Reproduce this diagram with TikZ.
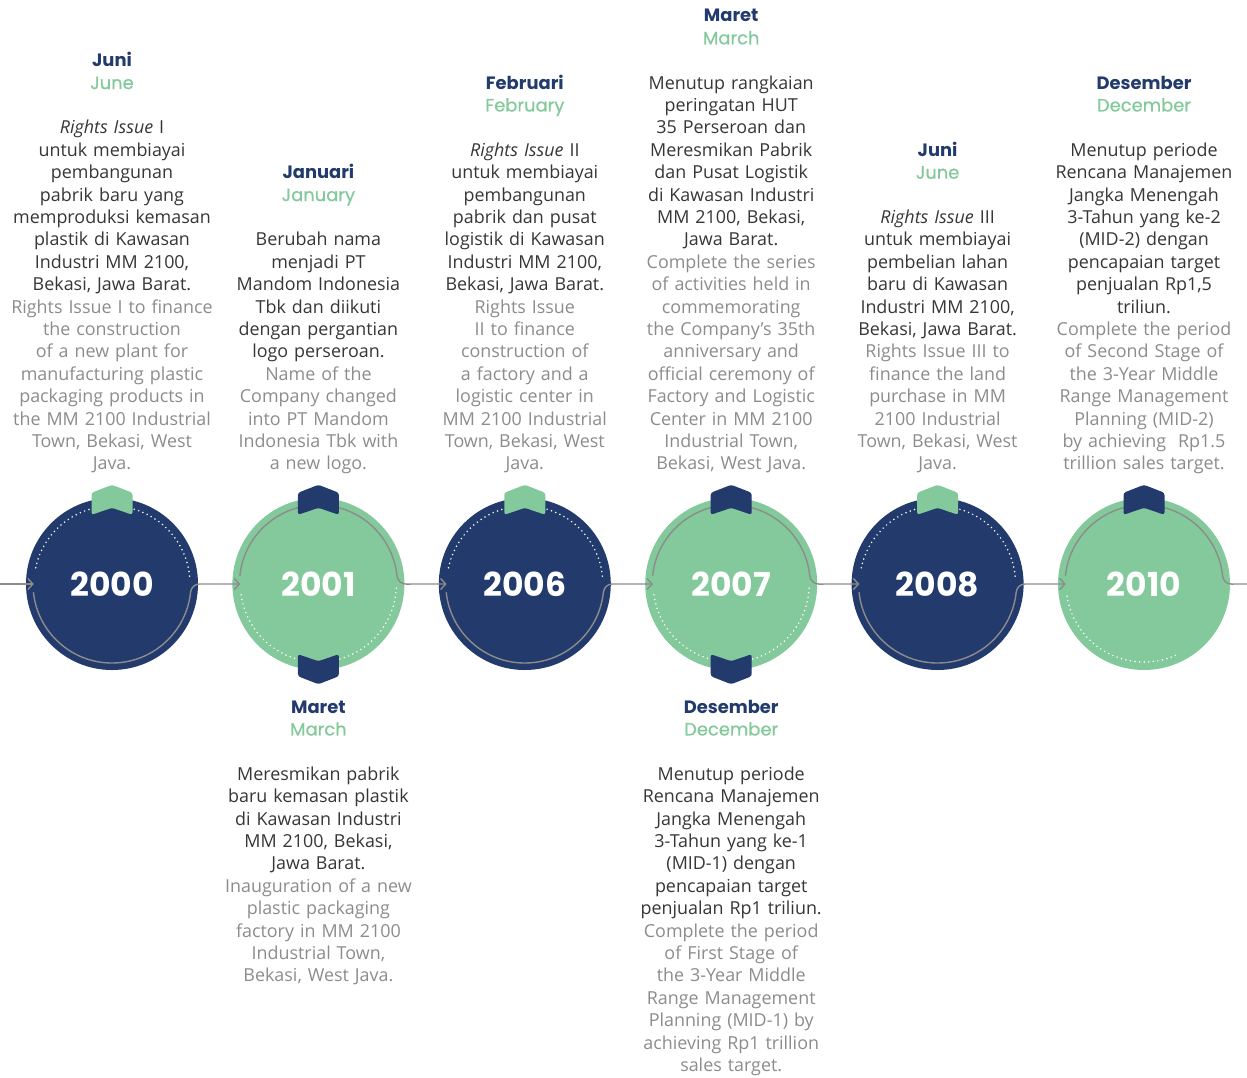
\documentclass[tikz,border=0pt]{standalone}
\usepackage{fontspec}
\setmainfont{Open Sans}
\newfontfamily\yearfont{Poppins}
\newfontfamily\monthfont{Poppins}[FakeBold=0.6]
\usetikzlibrary{positioning,arrows.meta}
\definecolor{navy}{HTML}{223A6C}
\definecolor{mint}{HTML}{83C99B}
\definecolor{ink}{HTML}{363636}
\definecolor{mute}{HTML}{8C8C8C}
\newcommand{\mon}[2]{{\yearfont\bfseries\color{navy}#1}\\{\monthfont\color{mint}#2}\\[22.4pt]}

\begin{document}
\begin{tikzpicture}[x=1pt, y=1pt, node distance=206.4pt, >={Straight Barb[length=5pt,width=11pt]},
    year/.style={circle, minimum size=172pt, inner sep=0pt, text=white,
      font=\yearfont\bfseries\fontsize{33}{33}\selectfont},
    darkyear/.style={year, fill=navy},
    lightyear/.style={year, fill=mint},
    note/.style={text width=212pt, align=center, inner sep=0pt, text=ink,
      font=\fontsize{17.9}{22.4}\selectfont},
    flow/.style={draw=mute, line width=1.4pt},
    dots/.style={draw=white, line width=1.7pt, line cap=round, dash pattern=on 0pt off 4.6pt},
    uptab/.pic={\fill[rounded corners=2.5pt] (0,15) -- (20.5,7) -- (20.5,-15) -- (0,-8)
      -- (-20.5,-15) -- (-20.5,7) -- cycle;},
    downtab/.pic={\fill[rounded corners=2.5pt] (0,-15) -- (20.5,-7) -- (20.5,15) -- (0,8)
      -- (-20.5,15) -- (-20.5,-7) -- cycle;}]
    \useasboundingbox (0,0) rectangle (1247,-1077);

    \node[darkyear] (y2000) at (112,-584) {2000};
    \node[lightyear, right of=y2000] (y2001) {2001};
    \node[darkyear, right of=y2001] (y2006) {2006};
    \node[lightyear, right of=y2006] (y2007) {2007};
    \node[darkyear, right of=y2007] (y2008) {2008};
    \node[lightyear, right of=y2008] (y2010) {2010};
    \coordinate (start) at (0,-584);
    \coordinate (finish) at (1247,-584);

    % dotted rims
    \draw[dots] ([shift={(168:78pt)}]y2000.center) arc[start angle=168, end angle=3, radius=78pt];
    \draw[dots] ([shift={(188:78pt)}]y2001.center) arc[start angle=188, end angle=358, radius=78pt];
    \draw[dots] ([shift={(168:78pt)}]y2006.center) arc[start angle=168, end angle=3, radius=78pt];
    \draw[dots] ([shift={(188:78pt)}]y2007.center) arc[start angle=188, end angle=358, radius=78pt];
    \draw[dots] ([shift={(168:78pt)}]y2008.center) arc[start angle=168, end angle=3, radius=78pt];
    \draw[dots] ([shift={(189:78pt)}]y2010.center) arc[start angle=189, end angle=297, radius=78pt];

    % timeline
    \draw[flow, ->] (start) -- ([xshift=8pt]y2000.west);
    \draw[flow, ->] ([shift={(186:79pt)}]y2000.center) arc[start angle=186, end angle=354, radius=79pt]
      to[out=84, in=180] ++(9,8.3) -- ([xshift=8pt]y2001.west);
    \draw[flow, ->] ([shift={(174:79pt)}]y2001.center) arc[start angle=174, end angle=6, radius=79pt]
      to[out=-84, in=180] ++(9,-8.3) -- ([xshift=8pt]y2006.west);
    \draw[flow, ->] ([shift={(186:79pt)}]y2006.center) arc[start angle=186, end angle=354, radius=79pt]
      to[out=84, in=180] ++(9,8.3) -- ([xshift=8pt]y2007.west);
    \draw[flow, ->] ([shift={(174:79pt)}]y2007.center) arc[start angle=174, end angle=6, radius=79pt]
      to[out=-84, in=180] ++(9,-8.3) -- ([xshift=8pt]y2008.west);
    \draw[flow, ->] ([shift={(186:79pt)}]y2008.center) arc[start angle=186, end angle=354, radius=79pt]
      to[out=84, in=180] ++(9,8.3) -- ([xshift=8pt]y2010.west);
    \draw[flow] ([shift={(174:79pt)}]y2010.center) arc[start angle=174, end angle=6, radius=79pt]
      to[out=-84, in=180] ++(9,-8.3) -- (finish);

    % tabs
    \pic[fill=mint] at ([yshift=-2pt]y2000.north) {uptab};
    \pic[fill=navy] at ([yshift=-2pt]y2001.north) {uptab};
    \pic[fill=navy] at ([yshift=1pt]y2001.south) {downtab};
    \pic[fill=mint] at ([yshift=-2pt]y2006.north) {uptab};
    \pic[fill=navy] at ([yshift=-2pt]y2007.north) {uptab};
    \pic[fill=navy] at ([yshift=1pt]y2007.south) {downtab};
    \pic[fill=mint] at ([yshift=-2pt]y2008.north) {uptab};
    \pic[fill=navy] at ([yshift=-2pt]y2010.north) {uptab};

    \node[note, above=21pt of y2000] (n2000) {\strut\mon{Juni}{June}
      \textit{Rights Issue} I\\ untuk membiayai\\ pembangunan\\ pabrik baru yang\\
      memproduksi kemasan\\ plastik di Kawasan\\ Industri MM 2100,\\ Bekasi, Jawa Barat.\\
      {\color{mute}Rights Issue I to finance\\ the construction\\ of a new plant for\\
      manufacturing plastic\\ packaging products in\\ the MM 2100 Industrial\\
      Town, Bekasi, West\\ Java.\strut}};
    \node[note, above=21pt of y2001] (n2001) {\strut\mon{Januari}{January}
      Berubah nama\\ menjadi PT\\ Mandom Indonesia\\ Tbk dan diikuti\\
      dengan pergantian\\ logo perseroan.\\
      {\color{mute}Name of the\\ Company changed\\ into PT Mandom\\
      Indonesia Tbk with\\ a new logo.\strut}};
    \node[note, below=27pt of y2001] (m2001) {\strut\mon{Maret}{March}
      Meresmikan pabrik\\ baru kemasan plastik\\ di Kawasan Industri\\
      MM 2100, Bekasi,\\ Jawa Barat.\\
      {\color{mute}Inauguration of a new\\ plastic packaging\\ factory in MM 2100\\
      Industrial Town,\\ Bekasi, West Java.\strut}};
    \node[note, above=21pt of y2006] (n2006) {\strut\mon{Februari}{February}
      \textit{Rights Issue} II\\ untuk membiayai\\ pembangunan\\ pabrik dan pusat\\
      logistik di Kawasan\\ Industri MM 2100,\\ Bekasi, Jawa Barat.\\
      {\color{mute}Rights Issue\\ II to finance\\ construction of\\ a factory and a\\
      logistic center in\\ MM 2100 Industrial\\ Town, Bekasi, West\\ Java.\strut}};
    \node[note, above=21pt of y2007] (n2007) {\strut\mon{Maret}{March}
      Menutup rangkaian\\ peringatan HUT\\ 35 Perseroan dan\\ Meresmikan Pabrik\\
      dan Pusat Logistik\\ di Kawasan Industri\\ MM 2100, Bekasi,\\ Jawa Barat.\\
      {\color{mute}Complete the series\\ of activities held in\\ commemorating\\
      the Company’s 35th\\ anniversary and\\ official ceremony of\\
      Factory and Logistic\\ Center in MM 2100\\ Industrial Town,\\ Bekasi, West Java.\strut}};
    \node[note, below=27pt of y2007] (m2007) {\strut\mon{Desember}{December}
      Menutup periode\\ Rencana Manajemen\\ Jangka Menengah\\ 3-Tahun yang ke-1\\
      (MID-1) dengan\\ pencapaian target\\ penjualan Rp1 triliun.\\
      {\color{mute}Complete the period\\ of First Stage of\\ the 3-Year Middle\\
      Range Management\\ Planning (MID-1) by\\ achieving Rp1 trillion\\ sales target.\strut}};
    \node[note, above=21pt of y2008] (n2008) {\strut\mon{Juni}{June}
      \textit{Rights Issue} III\\ untuk membiayai\\ pembelian lahan\\ baru di Kawasan\\
      Industri MM 2100,\\ Bekasi, Jawa Barat.\\
      {\color{mute}Rights Issue III to\\ finance the land\\ purchase in MM\\
      2100 Industrial\\ Town, Bekasi, West\\ Java.\strut}};
    \node[note, above=21pt of y2010] (n2010) {\strut\mon{Desember}{December}
      Menutup periode\\ Rencana Manajemen\\ Jangka Menengah\\ 3-Tahun yang ke-2\\
      (MID-2) dengan\\ pencapaian target\\ penjualan Rp1,5\\ triliun.\\
      {\color{mute}Complete the period\\ of Second Stage of\\ the 3-Year Middle\\
      Range Management\\ Planning (MID-2)\\ by achieving~ Rp1.5\\ trillion sales target.\strut}};
  \end{tikzpicture}
\end{document}
